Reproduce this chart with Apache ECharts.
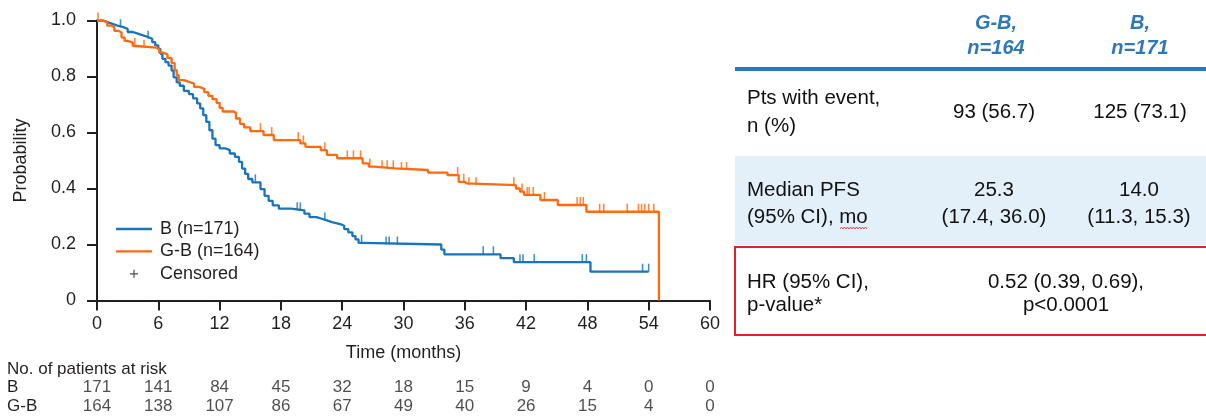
<!DOCTYPE html>
<html><head><meta charset="utf-8">
<script src="https://cdn.jsdelivr.net/npm/echarts@6/dist/echarts.min.js"></script>
<style>html,body{margin:0;padding:0;background:#fff}#c{width:1206px;height:418px}</style>
</head><body><div id="c"></div>
<script>
// ---------------- data ----------------
const bName = 'B (n=171)';
const gbName = 'G-B (n=164)';
// Kaplan-Meier steps (time in months, survival probability after the event)
const bTimes = [0, 0.6, 1.0, 1.5, 2.0, 2.6, 3.0, 3.5, 4.0, 4.5, 5.0, 5.4, 5.7, 6.0, 6.2, 6.4, 6.7, 7.0, 7.3, 7.5, 7.8, 8.1, 8.5, 9.0, 9.4, 9.8, 10.1, 10.4, 10.7, 11.0, 11.3, 11.6, 12.0, 12.6, 13.0, 13.5, 13.9, 14.2, 14.5, 14.8, 15.2, 16.0, 16.4, 16.8, 17.2, 17.8, 19.0, 20.3, 20.8, 21.5, 22.0, 22.5, 23.0, 23.8, 24.2, 24.6, 25.0, 25.3, 25.6, 26.0, 33.7, 34.0, 39.5, 40.8, 48.3, 54.0];
const bSurv = [1.0, 0.994, 0.988, 0.982, 0.976, 0.970, 0.959, 0.953, 0.947, 0.941, 0.935, 0.923, 0.911, 0.899, 0.881, 0.863, 0.851, 0.839, 0.821, 0.797, 0.779, 0.767, 0.749, 0.737, 0.722, 0.704, 0.686, 0.662, 0.638, 0.608, 0.578, 0.555, 0.543, 0.537, 0.525, 0.513, 0.495, 0.471, 0.452, 0.434, 0.422, 0.398, 0.374, 0.356, 0.340, 0.328, 0.322, 0.310, 0.298, 0.292, 0.286, 0.280, 0.273, 0.267, 0.255, 0.243, 0.230, 0.218, 0.206, 0.200, 0.182, 0.165, 0.151, 0.137, 0.103, 0.103];
const gbTimes = [0, 0.6, 1.0, 1.4, 1.7, 2.1, 2.4, 2.7, 3.0, 3.5, 3.9, 5.8, 6.1, 6.5, 6.9, 7.3, 7.6, 7.8, 8.0, 8.5, 9.0, 9.5, 10.0, 10.5, 10.9, 11.3, 11.7, 12.0, 12.3, 13.4, 13.6, 14.0, 14.4, 15.0, 16.3, 17.3, 19.9, 20.4, 21.9, 22.5, 23.5, 26.0, 26.6, 27.1, 29.2, 32.4, 34.3, 35.4, 36.0, 36.2, 41.0, 41.4, 41.8, 43.4, 45.1, 47.9, 55.0];
const gbSurv = [1.0, 0.994, 0.982, 0.976, 0.963, 0.957, 0.939, 0.927, 0.921, 0.909, 0.903, 0.897, 0.885, 0.879, 0.866, 0.848, 0.823, 0.805, 0.787, 0.781, 0.775, 0.763, 0.756, 0.744, 0.731, 0.719, 0.706, 0.688, 0.675, 0.669, 0.650, 0.631, 0.618, 0.605, 0.591, 0.573, 0.561, 0.549, 0.537, 0.520, 0.508, 0.490, 0.478, 0.472, 0.466, 0.457, 0.448, 0.424, 0.418, 0.412, 0.400, 0.389, 0.377, 0.359, 0.341, 0.317, 0];
// censoring times
const bCensor = [2.3, 5.0, 15.5, 19.6, 19.9, 22.3, 25.9, 28.3, 28.6, 29.4, 37.8, 38.8, 41.4, 41.7, 42.8, 47.5, 47.9, 53.4, 54.0];
const gbCensor = [0.1, 3.7, 4.6, 16.0, 17.1, 19.7, 20.2, 22.3, 24.5, 25.1, 25.8, 26.7, 27.9, 28.4, 29.0, 29.8, 30.3, 35.3, 35.9, 36.4, 37.1, 40.8, 41.6, 42.1, 42.3, 42.7, 43.8, 47.0, 47.3, 47.6, 49.2, 49.6, 51.9, 53.0, 53.3, 53.6, 54.0, 54.5];
// numbers at risk
const riskTimes = [0, 6, 12, 18, 24, 30, 36, 42, 48, 54, 60];
const riskRows = ['B', 'G-B'];
const riskB = [171, 141, 84, 45, 32, 18, 15, 9, 4, 0, 0];
const riskGB = [164, 138, 107, 86, 67, 49, 40, 26, 15, 4, 0];
// summary table
const tableHeaders = [['G-B,', 'n=164'], ['B,', 'n=171']];
const rowLabels = [['Pts with event,', 'n (%)'], ['Median PFS', '(95% CI), mo'], ['HR (95% CI),', 'p-value*']];
const gbValues = [['93 (56.7)'], ['25.3', '(17.4, 36.0)']];
const bValues = [['125 (73.1)'], ['14.0', '(11.3, 15.3)']];
const hrValues = ['0.52 (0.39, 0.69),', 'p<0.0001'];

// ---------------- styles ----------------
const FONT = '"Liberation Sans", Arial, Helvetica, sans-serif';
const INK = '#231f20';
const BLUE = '#1a74bb';
const ORANGE = '#ff6a0e';
const HEAD = '#2e78b9';

function survAt(times, surv, t) {
  let v = surv[0];
  for (let i = 0; i < times.length; i++) { if (times[i] <= t) v = surv[i]; else break; }
  return v;
}
const zip = (a, b) => a.map((v, i) => [v, b[i]]);

const tick = 'path://M0,0h1v10h-1z';
const chart = echarts.init(document.getElementById('c'), null, {renderer: 'canvas'});

// ---- table graphics ----
const TF = '20.5px ' + FONT;
const T = (text, x, y, align, extra) => Object.assign({
  type: 'text', x, y,
  style: Object.assign({text, fill: '#111', font: TF, align, verticalAlign: 'middle'}, extra || {})
});
const g = [];
g.push({type: 'rect', shape: {x: 735, y: 156, width: 471, height: 89}, style: {fill: '#e3f0fa'}});
g.push({type: 'rect', shape: {x: 735, y: 247, width: 480, height: 88}, style: {fill: 'none', stroke: '#e51f25', lineWidth: 2}});
g.push({type: 'line', shape: {x1: 735, y1: 69, x2: 1206, y2: 69}, style: {stroke: HEAD, lineWidth: 4}});
const colX = [996, 1140];
tableHeaders.forEach((h, c) => {
  g.push(T(h[0], colX[c], 23, 'center', {fill: HEAD, font: 'italic bold 20px ' + FONT}));
  g.push(T(h[1], colX[c], 48, 'center', {fill: HEAD, font: 'italic bold 20px ' + FONT}));
});
const rowY = [[98, 126], [190, 217], [282, 305]];
rowLabels.forEach((r, i) => { g.push(T(r[0], 747, rowY[i][0], 'left')); g.push(T(r[1], 747, rowY[i][1], 'left')); });
g.push(T(gbValues[0][0], 994, 112, 'center'));
g.push(T(bValues[0][0], 1140, 112, 'center'));
g.push(T(gbValues[1][0], 994, 190, 'center'));
g.push(T(gbValues[1][1], 994, 217, 'center'));
g.push(T(bValues[1][0], 1139, 190, 'center'));
g.push(T(bValues[1][1], 1139, 217, 'center'));
g.push(T(hrValues[0], 1066, 282, 'center'));
g.push(T(hrValues[1], 1066, 305, 'center'));
// spell-check squiggle under "mo"
const sq = [];
for (let x = 840, k = 0; x <= 868; x += 1.5, k++) sq.push([x, 228 + (k % 2 ? -1 : 1)]);
g.push({type: 'polyline', shape: {points: sq}, style: {stroke: '#e0302a', lineWidth: 0.8, fill: null}});
g.push(T('No. of patients at risk', 7, 369, 'left', {font: '17px ' + FONT, fill: INK}));

const axisCommon = {
  axisLine: {lineStyle: {color: INK, width: 2}},
  axisTick: {length: 10, lineStyle: {color: INK, width: 2}},
  splitLine: {show: false},
};

const option = {
  animation: false,
  backgroundColor: '#fff',
  textStyle: {fontFamily: FONT},
  grid: [
    {left: 97, top: 20.5, width: 613, height: 280},
    {left: 97, top: 378, width: 613, height: 38}
  ],
  xAxis: [
    Object.assign({}, axisCommon, {
      type: 'value', min: 0, max: 60, interval: 6, gridIndex: 0,
      name: 'Time (months)', nameLocation: 'middle', nameGap: 44,
      nameTextStyle: {fontSize: 18, color: INK, fontFamily: FONT},
      axisLabel: {fontSize: 18, color: INK, margin: 15, fontFamily: FONT}
    }),
    {type: 'value', min: 0, max: 60, gridIndex: 1, show: false}
  ],
  yAxis: [
    Object.assign({}, axisCommon, {
      type: 'value', min: 0, max: 1, interval: 0.2, gridIndex: 0,
      name: 'Probability', nameLocation: 'middle', nameGap: 67,
      nameTextStyle: {fontSize: 18, color: INK, fontFamily: FONT},
      axisLabel: {fontSize: 18, color: INK, margin: 21, fontFamily: FONT,
        formatter: v => (v === 0 ? '0' : v.toFixed(1))}
    }),
    {type: 'category', data: riskRows, inverse: true, gridIndex: 1,
      axisLine: {show: false}, axisTick: {show: false}, splitLine: {show: false},
      axisLabel: {interval: 0, align: 'left', margin: 90, fontSize: 17, color: INK, fontFamily: FONT}}
  ],
  legend: {
    orient: 'vertical', left: 111, top: 215, itemWidth: 36, itemHeight: 8, itemGap: 4.4,
    symbolKeepAspect: true,
    textStyle: {fontSize: 18, color: INK, fontFamily: FONT, lineHeight: 18, padding: [0, 0, 0, 3]},
    data: [
      {name: bName, icon: 'path://M0,0h36v2.4h-36z'},
      {name: gbName, icon: 'path://M0,0h36v2.4h-36z'},
      {name: 'Censored', icon: 'path://M3.4,0h1.2v8h-1.2z M0,3.4h8v1.2h-8z'}
    ]
  },
  graphic: g,
  series: [
    {name: bName, type: 'line', step: 'end', symbol: 'none', data: zip(bTimes, bSurv),
      itemStyle: {color: BLUE}, lineStyle: {color: BLUE, width: 2.3}, z: 3},
    {name: gbName, type: 'line', step: 'end', symbol: 'none', data: zip(gbTimes, gbSurv),
      itemStyle: {color: ORANGE}, lineStyle: {color: ORANGE, width: 2.3}, z: 3},
    {name: 'B censored', type: 'scatter', symbol: tick, symbolSize: [1.6, 8], symbolOffset: [0, -4],
      symbolKeepAspect: false, itemStyle: {color: BLUE}, z: 4,
      data: bCensor.map(t => [t, survAt(bTimes, bSurv, t)])},
    {name: 'G-B censored', type: 'scatter', symbol: tick, symbolSize: [1.6, 8], symbolOffset: [0, -4],
      symbolKeepAspect: false, itemStyle: {color: ORANGE}, z: 4,
      data: gbCensor.map(t => [t, survAt(gbTimes, gbSurv, t)])},
    {name: 'Censored', type: 'scatter', data: [], itemStyle: {color: INK}},
    {name: 'risk', type: 'scatter', xAxisIndex: 1, yAxisIndex: 1, symbolSize: 0.1,
      itemStyle: {color: 'rgba(0,0,0,0)'},
      label: {show: true, position: 'inside', fontSize: 17, color: INK, fontFamily: FONT,
        formatter: p => String(p.value[2])},
      data: riskTimes.map((t, i) => [t, 'B', riskB[i]]).concat(riskTimes.map((t, i) => [t, 'G-B', riskGB[i]]))}
  ]
};
chart.setOption(option);
</script></body></html>
